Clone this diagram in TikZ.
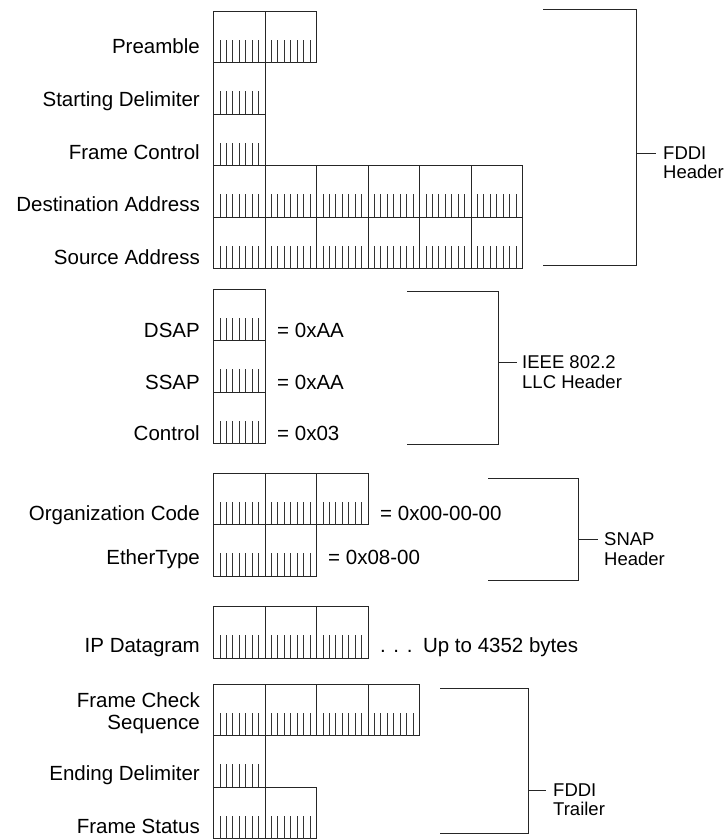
\documentclass[tikz,border=0pt]{standalone}
\usepackage{fontspec}
\setmainfont{Liberation Sans}
\begin{document}
\begin{tikzpicture}[x=1pt,y=-1pt]
\tikzset{
  cell/.style={draw=black!85, line width=0.9pt, minimum width=51.5pt,
    minimum height=51.5pt, inner sep=0pt, outer sep=0pt, anchor=north west},
  bitline/.style={draw=black!80, line width=0.8pt},
  bracketline/.style={draw=black!85, line width=0.8pt},
  fieldlabel/.style={anchor=base east, inner sep=0pt, font=\fontsize{20.5}{22}\selectfont},
  valuelabel/.style={anchor=base west, inner sep=0pt, font=\fontsize{20.5}{22}\selectfont},
  grouplabel/.style={anchor=north west, align=left, inner sep=0pt, font=\fontsize{18.5}{19.5}\selectfont},
}
% one row of byte cells: #1 name, #2 left x, #3 top y, #4 number of bytes
\newcommand\byterow[4]{%
  \foreach \k in {1,...,#4}{%
    \pgfmathsetmacro\xl{#2+(\k-1)*51.5}%
    \node[cell] (#1-\k) at (\xl,#3) {};
    \foreach \b in {1,...,7}{%
      \draw[bitline] ([xshift=\b*6.4375pt]#1-\k.south west) -- ++(0,-23);
    }%
  }%
}
\useasboundingbox (0,0) rectangle (728,839);

% ---------------- FDDI header ----------------
\byterow{pre}{213.5}{11}{2}
\byterow{sd}{213.5}{62.5}{1}
\byterow{fc}{213.5}{114}{1}
\byterow{da}{213.5}{165.5}{6}
\byterow{sa}{213.5}{217}{6}

\node[fieldlabel] (lpre) at (200,53) {Preamble};
\node[fieldlabel] (lsd)  at (200,106) {Starting Delimiter};
\node[fieldlabel] (lfc)  at (200,159) {Frame Control};
\node[fieldlabel] (lda)  at (200,211) {Destination Address};
\node[fieldlabel] (lsa)  at (200,264) {Source Address};

\coordinate (hA) at (543,9);
\coordinate (hB) at (636,9);
\coordinate (hC) at (636,265);
\coordinate (hD) at (543,265);
\coordinate (hM) at (636,153);
\draw[bracketline] (hA) -- (hB) -- (hC) -- (hD);
\node[grouplabel] (ghdr) at (663,146.4) {FDDI\\Header};
\coordinate (hE) at (656,153);
\draw[bracketline] (hM) -- (hE);

% ---------------- IEEE 802.2 LLC header ----------------
\byterow{dsap}{213.5}{289}{1}
\byterow{ssap}{213.5}{340.5}{1}
\byterow{ctl}{213.5}{392}{1}

\node[fieldlabel] (ldsap) at (200,337) {DSAP};
\node[fieldlabel] (lssap) at (200,389) {SSAP};
\node[fieldlabel] (lctl)  at (200,440) {Control};
\node[valuelabel] (vdsap) at (277,337) {= 0xAA};
\node[valuelabel] (vssap) at (277,389) {= 0xAA};
\node[valuelabel] (vctl)  at (277,440) {= 0x03};

\coordinate (lA) at (407,291);
\coordinate (lB) at (498,291);
\coordinate (lC) at (498,444);
\coordinate (lD) at (407,444);
\coordinate (lM) at (498,362);
\draw[bracketline] (lA) -- (lB) -- (lC) -- (lD);
\node[grouplabel] (gllc) at (522,355.4) {IEEE 802.2\\LLC Header};
\coordinate (lE) at (517,362);
\draw[bracketline] (lM) -- (lE);

% ---------------- SNAP header ----------------
\byterow{org}{213.5}{473}{3}
\byterow{et}{213.5}{524.5}{2}

\node[fieldlabel] (lorg) at (200,520) {Organization Code};
\node[fieldlabel] (let)  at (200,564) {EtherType};
\node[valuelabel] (vorg) at (380,520) {= 0x00-00-00};
\node[valuelabel] (vet)  at (328,564) {= 0x08-00};

\coordinate (sA) at (488,478);
\coordinate (sB) at (578,478);
\coordinate (sC) at (578,580);
\coordinate (sD) at (488,580);
\coordinate (sM) at (578,539);
\draw[bracketline] (sA) -- (sB) -- (sC) -- (sD);
\node[grouplabel] (gsnap) at (604,532.4) {SNAP\\Header};
\coordinate (sE) at (598,539);
\draw[bracketline] (sM) -- (sE);

% ---------------- IP datagram ----------------
\byterow{ip}{213.5}{606.5}{3}
\node[fieldlabel] (lip) at (200,652) {IP Datagram};
\node[valuelabel] (vip) at (380,652) {. . .\hspace{3pt} Up to 4352 bytes};

% ---------------- FDDI trailer ----------------
\byterow{fcs}{213.5}{684}{4}
\byterow{ed}{213.5}{735.5}{1}
\byterow{fs}{213.5}{787}{2}

\node[fieldlabel, align=right, anchor=east] (lfcs) at (200,713) {Frame Check\\Sequence};
\node[fieldlabel] (led) at (200,780) {Ending Delimiter};
\node[fieldlabel] (lfs) at (200,833) {Frame Status};

\coordinate (tA) at (440,688);
\coordinate (tB) at (528,688);
\coordinate (tC) at (528,833);
\coordinate (tD) at (440,833);
\coordinate (tM) at (528,790);
\draw[bracketline] (tA) -- (tB) -- (tC) -- (tD);
\node[grouplabel] (gtrl) at (553,783.4) {FDDI\\Trailer};
\coordinate (tE) at (546,790);
\draw[bracketline] (tM) -- (tE);
\end{tikzpicture}
\end{document}
